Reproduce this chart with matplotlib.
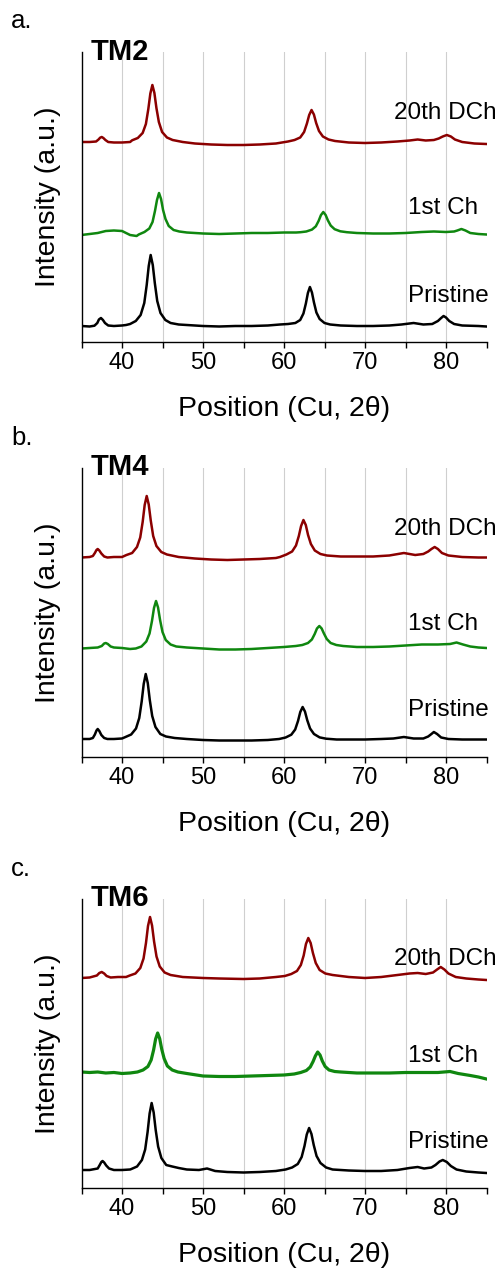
import matplotlib
matplotlib.use("Agg")
import matplotlib.pyplot as plt

plt.rcParams['font.family'] = ['Liberation Sans', 'DejaVu Sans']

# ---- data (2theta, intensity in a.u.) ----
# TM2
tm2_pristine_x = [35, 36, 36.6, 36.95, 37.15, 37.4, 37.65, 37.9, 38.3, 39, 40, 40.5, 41.0, 41.7, 42.3, 42.75, 43.05, 43.3,
                  43.54, 43.8, 44.05, 44.35, 44.75, 45.35, 46.0, 47, 48, 50, 52, 54, 56, 58, 59.5, 60.5,
                  61.4, 62.0, 62.4, 62.7, 62.95, 63.2, 63.45, 63.7, 64.0, 64.4, 65.0, 65.7, 67, 69, 71,
                  73, 74.5, 76, 77.2, 78.3, 79.0, 79.4, 79.7, 80.0, 80.4, 81.0, 82, 84, 85]
tm2_pristine_y = [16, 15.5, 16.3, 19, 22.5, 24, 22, 19, 16.5, 16, 16.5, 17, 18, 21, 27, 39, 57, 76,
                  87, 77, 59, 41, 29, 22, 19, 17.5, 17, 16, 15.5, 16, 16, 16.5, 17.5, 18,
                  19, 22, 28.5, 38.5, 49, 55, 49.5, 39.5, 29.5, 23, 19, 17.5, 16.5, 16, 16,
                  16.5, 17.5, 19, 17.5, 18, 21, 24, 26, 24.5, 21, 18, 16.5, 16, 15.5]
tm2_1st_x = [35, 36, 37, 38, 39, 40, 41, 41.8, 42.07, 42.77, 43.37, 43.77, 44.07, 44.32, 44.57, 44.82,
             45.07, 45.37, 45.77, 46.37, 47.07, 48, 50, 52, 54, 56, 58, 60, 61.5, 62.05, 62.75, 63.45,
             63.93, 64.28, 64.56, 64.85, 65.14, 65.42, 65.77, 66.25, 66.95, 67.75, 69, 71, 73, 75, 77,
             78.5, 80, 81.0, 81.4, 81.9, 82.4, 83, 84, 85]
tm2_1st_y = [107, 108, 109, 111, 111.5, 111, 107, 106, 107.5, 110, 113.5, 120, 131, 142, 149, 143,
             132, 123, 116, 112, 110.5, 109.5, 108.5, 108, 108.5, 109, 109, 109.5, 109.5, 109.8, 110.5, 112.4,
             115.7, 121.2, 126.9, 130, 127, 121.6, 116.4, 112.8, 110.7, 109.8, 109, 108.5, 108.5, 109, 110,
             110.5, 110, 110.5, 111.5, 113, 111.5, 109, 108, 107.5]
tm2_20th_x = [35, 36, 36.8, 37.1, 37.3, 37.5, 37.7, 37.95, 38.3, 39, 40, 41, 41.25, 41.95, 42.55, 42.95, 43.25, 43.5,
              43.75, 44.0, 44.25, 44.55, 44.95, 45.55, 46.25, 47.5, 49, 51, 53, 55, 57, 59, 60.5, 61.3,
              62.0, 62.48, 62.83, 63.11, 63.4, 63.69, 63.97, 64.32, 64.8, 65.5, 66.3, 68, 70, 72, 74,
              75.5, 76.5, 77.5, 78.5, 79.1, 79.6, 80.1, 80.6, 81.1, 82, 83.5, 85]
tm2_20th_y = [200, 200, 200.5, 202.5, 204.3, 205, 204, 202, 200, 199.5, 199.5, 200, 201.7, 204, 209, 218, 233, 248.5,
              257, 249, 234, 220, 210, 204.5, 202, 200, 198.5, 197.5, 197, 197, 197.5, 198.5, 200.5, 202,
              204.5, 210, 218.5, 227, 232, 227.5, 219, 211, 205.5, 202.5, 201, 199.5, 199, 199.5, 200.5,
              201.5, 202.5, 201.5, 202, 203.5, 205.5, 207, 205.5, 202.5, 200, 198.5, 198]

# TM4
tm4_pristine_x = [35, 36, 36.4, 36.65, 36.85, 37.0, 37.2, 37.45, 37.8, 38.2, 39, 40, 40.43, 41.13, 41.73, 42.13, 42.43,
                  42.68, 42.93, 43.18, 43.43, 43.73, 44.13, 44.73, 45.43, 46.5, 48, 50, 52, 54, 56, 58,
                  59.4, 60.2, 60.9, 61.38, 61.73, 62.01, 62.3, 62.59, 62.87, 63.22, 63.7, 64.4, 65.2,
                  66.5, 68, 70, 72, 73.5, 74.8, 76, 77.2, 77.8, 78.2, 78.5, 78.9, 79.4, 80.3, 82, 84, 85]
tm4_pristine_y = [18, 18, 19, 22.5, 26.5, 28, 26, 22, 19, 18, 18, 18.5, 20, 22.5, 28.5, 39, 55.5,
                  73, 83, 74, 57, 41, 30, 23, 20.5, 19, 18, 17, 16.5, 16.5, 16.5, 17,
                  18, 19.5, 22.3, 27.5, 36, 45, 50, 45.4, 36.8, 28.5, 23, 19.6, 18.3,
                  17.5, 17.5, 17.5, 18, 18.5, 20, 18.5, 18.5, 20.5, 23, 25, 23, 19.5, 18, 17.5, 17.5, 17.5]
tm4_1st_x = [35, 36, 37, 37.5, 37.8, 38.0, 38.25, 38.6, 39, 40, 41, 41.7, 42.4, 43.0, 43.4, 43.7, 43.95, 44.2, 44.45,
             44.7, 45.0, 45.4, 46.0, 46.7, 48, 50, 52, 54, 56, 58, 60, 61.46, 62.26, 62.96, 63.44, 63.79,
             64.07, 64.36, 64.65, 64.93, 65.28, 65.76, 66.46, 67.3, 69, 71, 73, 75, 77, 79, 80.5, 81.3,
             82.1, 83, 84, 85]
tm4_1st_y = [108.5, 109, 109.5, 111, 113.5, 114, 113, 110.5, 109.5, 109, 108, 108.5, 110.5, 115.5, 123.5, 136, 149, 156,
             149.5, 137, 125, 117, 112.5, 110.5, 109.5, 108.5, 107.5, 107.5, 108, 109, 110, 111, 112, 114,
             117.5, 123, 128.5, 131, 128.5, 123.5, 118, 114, 112, 111, 110, 110, 110.5, 111.5, 112.5, 112.5,
             113, 114.5, 112.5, 110.5, 109.5, 109]
tm4_20th_x = [35, 36, 36.4, 36.65, 36.85, 37.0, 37.2, 37.45, 37.8, 38.2, 39, 40, 40.55, 41.25, 41.85, 42.25, 42.55, 42.8,
              43.05, 43.3, 43.55, 43.85, 44.25, 44.85, 45.55, 47, 49, 51, 53, 55, 57, 59, 59.5, 60.3,
              61.0, 61.48, 61.83, 62.11, 62.4, 62.69, 62.97, 63.32, 63.8, 64.5, 65.3, 67, 69, 71, 73,
              74.8, 76.2, 77.2, 77.8, 78.2, 78.6, 79.0, 79.5, 80.3, 82, 84, 85]
tm4_20th_y = [199.5, 200, 201, 204, 207, 208, 206.5, 203.5, 200.5, 199.5, 200, 200, 202, 204, 210, 219.5, 235, 252,
              261, 252.5, 236.5, 221, 211, 205, 202.5, 200, 198.5, 197.5, 197, 197.5, 198, 199, 200, 202.5,
              205.5, 211.5, 221, 231, 237, 232, 222, 213, 206.5, 203, 201.5, 200.5, 200.5, 200.5, 201.5,
              204, 202, 203, 205.5, 208, 210, 208, 204, 201.5, 200, 199.5, 199.5]

# TM6
tm6_pristine_x = [35, 36, 37.0, 37.25, 37.45, 37.6, 37.8, 38.05, 38.4, 39, 40, 41, 41.16, 41.86, 42.46, 42.86, 43.16,
                  43.41, 43.66, 43.91, 44.16, 44.46, 44.86, 45.46, 46.2, 47, 48, 49.5, 50.5, 51.5, 53,
                  55, 57, 59, 60.2, 61.0, 61.7, 62.18, 62.53, 62.81, 63.1, 63.39, 63.67, 64.02, 64.5,
                  65.2, 66, 68, 70, 72, 74, 75.5, 76.5, 77.3, 78.2, 78.7, 79.2, 79.6, 80.1, 80.6, 81.3,
                  82.5, 84, 85]
tm6_pristine_y = [18, 18, 19.5, 23, 26, 27, 25.5, 22.5, 19.5, 18, 18, 18.5, 19, 21.5, 28, 38.5, 56,
                  74.5, 85, 75.5, 58, 41.5, 30, 23, 21.5, 20, 18.5, 18, 19.5, 17, 16,
                  15.5, 16, 17, 18.5, 20.5, 24, 31, 42, 53.5, 60, 54, 43, 32, 25,
                  20.5, 18.5, 17.5, 17, 17, 18, 20, 21, 19.5, 20.5, 23, 26.5, 28, 26, 22, 18.5,
                  16.5, 15.5, 15]
tm6_1st_x = [35, 36, 37, 38, 39, 40, 41, 41.9, 42.6, 43.2, 43.6, 43.9, 44.15, 44.4, 44.65, 44.9, 45.2,
             45.6, 46.2, 46.9, 48, 50, 52, 54, 56, 58, 60, 61.26, 62.06, 62.76, 63.24, 63.59, 63.87,
             64.16, 64.45, 64.73, 65.08, 65.56, 66.26, 67, 69, 71, 73, 75, 77, 79, 80.5, 81.5, 83, 84, 85]
tm6_1st_y = [116, 115.5, 116, 115, 115.5, 114.5, 115, 116, 118, 121.5, 128, 138, 149, 155, 149.5, 139, 129.5,
             122, 118, 116, 114.5, 112, 111.5, 111.5, 112, 112.5, 113, 114, 115.5, 117.5, 121, 126.5, 132,
             136, 133, 127, 121.5, 118, 116.5, 116, 115, 115, 115, 115.5, 115.5, 115.5, 116.5, 114.5, 112.5,
             111, 109]
tm6_20th_x = [35, 36, 36.9, 37.2, 37.5, 37.8, 38.1, 38.6, 39.5, 40.5, 40.96, 41.66, 42.26, 42.66, 42.96, 43.21, 43.46,
              43.71, 43.96, 44.26, 44.66, 45.26, 46, 47.5, 50, 52, 55, 57, 59, 60.1, 60.9, 61.6, 62.08,
              62.43, 62.71, 63.0, 63.29, 63.57, 63.92, 64.4, 65.1, 66, 68, 70, 72, 74, 75.5, 76.5, 77.5,
              78.4, 78.9, 79.35, 79.8, 80.3, 81.2, 82.5, 84, 85]
tm6_20th_y = [210, 210.5, 212.5, 215, 216, 214.5, 212, 210.5, 211, 211, 212.5, 214.5, 220, 229.5, 245, 262, 271,
              262.5, 246.5, 231.5, 221.5, 215.5, 213, 211, 210, 209.5, 209, 209.5, 211, 212, 214, 217, 223,
              232.5, 244, 250, 245, 235, 225, 218, 214.5, 213, 211, 210, 211, 213, 214.5, 215, 214,
              215.5, 218.5, 221, 218.5, 214.5, 211, 209.5, 208.5, 208]

panel_names = ['TM2', 'TM4', 'TM6']
panel_letters = ['a.', 'b.', 'c.']
trace_names = ['Pristine', '1st Ch', '20th DCh']
trace_colors = ['black', '#0f870f', '#8b0000']
label_x = [85.3, 83.95, 86.2]
label_y = [[40, 128, 223], [41, 127, 222], [40, 126, 223]]
xticks_major = [40, 50, 60, 70, 80]
grid_x = [40, 45, 50, 55, 60, 65, 70, 75, 80]

panels = [
    [(tm2_pristine_x, tm2_pristine_y), (tm2_1st_x, tm2_1st_y), (tm2_20th_x, tm2_20th_y)],
    [(tm4_pristine_x, tm4_pristine_y), (tm4_1st_x, tm4_1st_y), (tm4_20th_x, tm4_20th_y)],
    [(tm6_pristine_x, tm6_pristine_y), (tm6_1st_x, tm6_1st_y), (tm6_20th_x, tm6_20th_y)],
]

fig = plt.figure(figsize=(5.01, 12.68), dpi=100)
W, H = 501.0, 1268.0
# axes boxes in pixels (left, top, right, bottom)
boxes = [(81.5, 52, 486.5, 342), (81.5, 468, 486.5, 757), (81.5, 899, 486.5, 1188)]
letter_base = [28.5, 445, 876]

for i, (l, t, r, b) in enumerate(boxes):
    ax = fig.add_axes([l / W, 1 - b / H, (r - l) / W, (b - t) / H])
    for gx in grid_x:
        ax.axvline(gx, color='#cfcfcf', lw=0.8, zorder=0)
    for k, (xs, ys) in enumerate(panels[i]):
        lw = 2.3 if (i == 2 and k == 1) else 1.8
        ax.plot(xs, ys, color=trace_colors[k], lw=lw, zorder=2, solid_joinstyle='round')
        ax.text(label_x[k], label_y[i][k], trace_names[k], ha='right', va='baseline',
                fontsize=17.5, color='black', zorder=3, clip_on=False)
    ax.set_xlim(35, 85)
    ax.set_ylim(0, 290 if i == 0 else 289)
    ax.set_xticks(xticks_major)
    ax.set_xticks([35, 45, 55, 65, 75, 85], minor=True)
    ax.tick_params(axis='x', which='both', direction='out', length=4, width=1, labelsize=17, pad=3)
    ax.set_yticks([])
    for s in ['top', 'right']:
        ax.spines[s].set_visible(False)
    ax.spines['left'].set_linewidth(1)
    ax.spines['bottom'].set_linewidth(1)
    ax.set_xlabel('Position (Cu, 2θ)', fontsize=20.5, labelpad=16)
    ax.set_ylabel('Intensity (a.u.)', fontsize=20.5, labelpad=15)
    ax.text(36.1, 282, panel_names[i], fontsize=21, fontweight='bold', ha='left', va='baseline',
            clip_on=False)
    fig.text(11 / W, 1 - letter_base[i] / H, panel_letters[i], fontsize=18.5, ha='left', va='baseline')

fig.savefig('out.png', dpi=100)
